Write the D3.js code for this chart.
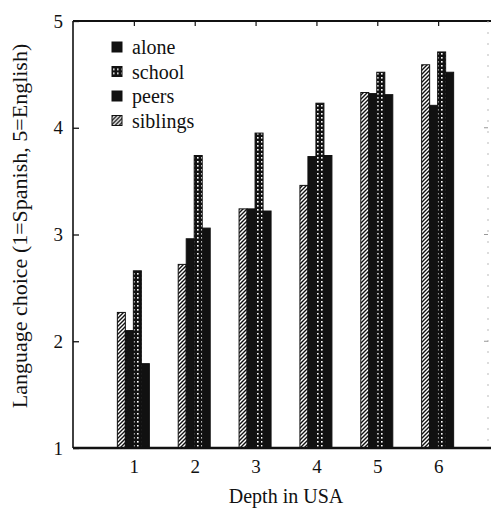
<!DOCTYPE html>
<html>
<head>
<meta charset="utf-8">
<script src="https://cdn.jsdelivr.net/npm/d3@7"></script>
<style>
  body { margin: 0; background: #fff; }
  svg text { font-family: "Liberation Serif", "DejaVu Serif", serif; fill: #111; }
</style>
</head>
<body>
<script>
// depth categories and the four series
var depths = [1, 2, 3, 4, 5, 6];
var seriesNames = ["alone", "school", "peers", "siblings"];
var alone    = [2.10, 2.96, 3.24, 3.73, 4.32, 4.21];
var school   = [2.66, 3.74, 3.95, 4.23, 4.52, 4.71];
var peers    = [1.79, 3.06, 3.22, 3.74, 4.31, 4.52];
var siblings = [2.27, 2.72, 3.24, 3.46, 4.33, 4.59];
var yTicks = [1, 2, 3, 4, 5];

var W = 491, H = 509;
var serif = "'Liberation Serif', 'DejaVu Serif', serif";
var svg = d3.select("body").append("svg").attr("width", W).attr("height", H);

var x = d3.scaleLinear().domain([0, 7]).range([73, 499]);
var y = d3.scaleLinear().domain([1, 5]).range([448, 21]);

var defs = svg.append("defs");
//diagonal hatch for siblings
var hatch = defs.append("pattern").attr("id", "hatch")
  .attr("patternUnits", "userSpaceOnUse").attr("width", 4).attr("height", 4);
hatch.append("rect").attr("width", 4).attr("height", 4).attr("fill", "#fff");
hatch.append("path").attr("d", "M-1,1 l2,-2 M0,4 l4,-4 M3,5 l2,-2")
  .attr("stroke", "#111").attr("stroke-width", 1.4);
//white dots on black for school
var dots = defs.append("pattern").attr("id", "dots")
  .attr("patternUnits", "userSpaceOnUse").attr("width", 4).attr("height", 4);
dots.append("rect").attr("width", 4).attr("height", 4).attr("fill", "#111");
dots.append("rect").attr("x", 1).attr("y", 1).attr("width", 1.6).attr("height", 1.6).attr("fill", "#fff");

var fills = { alone: "#111", school: "url(#dots)", peers: "#111", siblings: "url(#hatch)" };
var values = { alone: alone, school: school, peers: peers, siblings: siblings };
// left-to-right order of the bars inside a group
var barOrder = ["siblings", "alone", "peers", "school"];
var offset = { siblings: -16, alone: -8, school: 0, peers: 8 };
var bw = 8;

barOrder.forEach(function(name) {
  svg.append("g").selectAll("rect")
    .data(depths)
    .enter().append("rect")
    .attr("x", function(d) { return x(d) + offset[name] - 0.5; })
    .attr("y", function(d, i) { return y(values[name][i]); })
    .attr("width", bw)
    .attr("height", function(d, i) { return y(1) - y(values[name][i]); })
    .attr("fill", fills[name])
    .attr("stroke", "#111")
    .attr("stroke-width", 1);
});

// frame
var frame = svg.append("g").attr("stroke", "#111").attr("fill", "none");
frame.append("line").attr("x1", x(0)).attr("x2", W).attr("y1", y(5)).attr("y2", y(5)).attr("stroke-width", 2);
frame.append("line").attr("x1", x(0)).attr("x2", W).attr("y1", y(1)).attr("y2", y(1)).attr("stroke-width", 2.5);
frame.append("line").attr("x1", x(0)).attr("x2", x(0)).attr("y1", y(5)).attr("y2", y(1)).attr("stroke-width", 1.6);
frame.append("line").attr("x1", 488).attr("x2", 488).attr("y1", y(5)).attr("y2", y(1))
  .attr("stroke-width", 1).attr("stroke", "#bbb").attr("stroke-dasharray", "2,9");

// left axis ticks pointing in, labels outside
var yAxis = d3.axisLeft(y).tickValues(yTicks).tickSize(-6).tickPadding(10).tickFormat(d3.format("d"));
var gy = svg.append("g").attr("transform", "translate(" + x(0) + ",0)").call(yAxis)
  .attr("font-family", serif);
gy.select(".domain").remove();
gy.selectAll("line").attr("stroke", "#111").attr("stroke-width", 1.3);
gy.selectAll("text").attr("font-size", 19).attr("fill", "#111");

// top ticks at the groups
var topAxis = d3.axisTop(x).tickValues(depths).tickSize(-5).tickFormat("");
var gt = svg.append("g").attr("transform", "translate(0," + y(5) + ")").call(topAxis);
gt.select(".domain").remove();
gt.selectAll("line").attr("stroke", "#111").attr("stroke-width", 1.2);

// bottom labels
var xAxis = d3.axisBottom(x).tickValues(depths).tickSize(0).tickPadding(12).tickFormat(d3.format("d"));
var gx = svg.append("g").attr("transform", "translate(0," + y(1) + ")").call(xAxis)
  .attr("font-family", serif);
gx.select(".domain").remove();
gx.selectAll("text").attr("font-size", 19).attr("fill", "#111");

// right side small ticks
svg.append("g").selectAll("line").data(yTicks.slice(1, 4)).enter().append("line")
  .attr("x1", 484).attr("x2", 488).attr("y1", function(d) { return y(d); }).attr("y2", function(d) { return y(d); })
  .attr("stroke", "#999").attr("stroke-width", 1);

// legend
var legendNames = ["alone", "school", "peers", "siblings"];
var lg = svg.append("g").selectAll("g").data(legendNames).enter().append("g")
  .attr("transform", function(d, i) { return "translate(112," + (47 + i * 24.5) + ")"; });
lg.append("rect").attr("x", 0).attr("y", -5).attr("width", 10).attr("height", 10)
  .attr("fill", function(d) { return fills[d]; }).attr("stroke", "#111").attr("stroke-width", 1);
lg.append("text").attr("x", 20).attr("y", 0).attr("dy", "0.35em").attr("font-size", 20)
  .attr("font-family", serif).text(function(d) { return d; });

// axis titles
svg.append("text").attr("x", 286).attr("y", 503).attr("text-anchor", "middle").attr("font-size", 20)
  .attr("font-family", serif).text("Depth in USA");
svg.append("text").attr("transform", "translate(27,226) rotate(-90)").attr("text-anchor", "middle").attr("font-size", 22)
  .attr("font-family", serif).text("Language choice (1=Spanish, 5=English)");
</script>
</body>
</html>
